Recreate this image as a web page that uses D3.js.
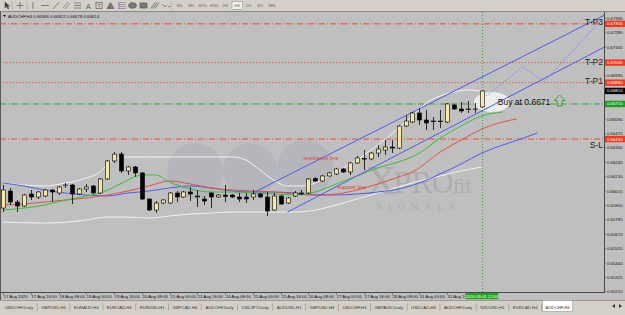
<!DOCTYPE html>
<html><head><meta charset="utf-8">
<title>AUDCHF H4</title>
<script src="https://cdn.jsdelivr.net/npm/d3@7"></script>
<style>
  body { margin: 0; background: #d4d0c8; }
  svg { display: block; font-family: Arial, "Liberation Sans", sans-serif; }
  .tiny { font-size: 4.3px; }
</style>
</head>
<body>
<svg id="chart" width="625" height="315"></svg>
<script>
// ---- values (AUDCHF, H4, bar 0 = 17 Aug 2020 00:00) ----
const opens = [0.65879,0.66015,0.65927,0.65895,0.65991,0.65967,0.65975,0.66023,0.65999,0.66059,
  0.66063,0.65991,0.66031,0.66055,0.65999,0.66111,0.66255,0.66310,0.66175,0.66207,
  0.66159,0.65951,0.65863,0.65919,0.65919,0.65999,0.65967,0.66007,0.65975,0.65951,
  0.65999,0.65967,0.65983,0.65983,0.65967,0.65967,0.65967,0.65991,0.65967,0.65863,
  0.65975,0.65919,0.65975,0.65999,0.65999,0.66115,0.66095,0.66135,0.66151,0.66191,
  0.66167,0.66239,0.66275,0.66271,0.66318,0.66342,0.66366,0.66358,0.66534,0.66566,
  0.66638,0.66582,0.66574,0.66570,0.66566,0.66702,0.66670,0.66670,0.66666,0.66686];
const highs = [0.66063,0.66039,0.65943,0.65991,0.66023,0.66015,0.66031,0.66031,0.66055,0.66079,
  0.66071,0.66039,0.66071,0.66063,0.66119,0.66263,0.66326,0.66326,0.66215,0.66215,
  0.66167,0.65959,0.65935,0.65951,0.66007,0.66015,0.66015,0.66047,0.66023,0.65975,
  0.66007,0.65991,0.66063,0.65991,0.65999,0.65999,0.66023,0.65999,0.66007,0.65999,
  0.65983,0.65967,0.66015,0.66023,0.66119,0.66127,0.66143,0.66167,0.66199,0.66199,
  0.66247,0.66295,0.66342,0.66326,0.66382,0.66422,0.66422,0.66542,0.66622,0.66646,
  0.66678,0.66662,0.66606,0.66662,0.66718,0.66710,0.66726,0.66734,0.66718,0.66822];
const lows = [0.65847,0.65903,0.65847,0.65887,0.65943,0.65951,0.65967,0.65927,0.65983,0.66039,
  0.65911,0.65983,0.66007,0.65991,0.65991,0.66103,0.66239,0.66159,0.66143,0.66127,
  0.65943,0.65855,0.65839,0.65911,0.65911,0.65927,0.65959,0.65935,0.65887,0.65903,
  0.65879,0.65959,0.65927,0.65959,0.65927,0.65919,0.65943,0.65959,0.65815,0.65855,
  0.65903,0.65911,0.65967,0.65983,0.65991,0.66087,0.66087,0.66127,0.66143,0.66159,
  0.66143,0.66231,0.66183,0.66263,0.66287,0.66302,0.66318,0.66350,0.66526,0.66558,
  0.66542,0.66502,0.66502,0.66518,0.66558,0.66662,0.66638,0.66638,0.66638,0.66678];
const closes = [0.66023,0.65927,0.65895,0.65983,0.65967,0.66007,0.66023,0.66007,0.66047,0.66063,
  0.65991,0.66031,0.66047,0.65999,0.66111,0.66255,0.66310,0.66175,0.66207,0.66159,
  0.65951,0.65863,0.65919,0.65943,0.65999,0.65967,0.66007,0.65991,0.65967,0.65935,
  0.65967,0.65983,0.65971,0.65967,0.65951,0.65951,0.65991,0.65967,0.65855,0.65975,
  0.65911,0.65959,0.65999,0.65991,0.66111,0.66095,0.66135,0.66159,0.66191,0.66167,
  0.66239,0.66279,0.66271,0.66318,0.66350,0.66366,0.66358,0.66534,0.66574,0.66638,
  0.66582,0.66558,0.66570,0.66574,0.66710,0.66670,0.66654,0.66666,0.66670,0.66814];

// indicator lines, [bar, price] (alligator lines run a few bars past the last candle)
const jawLine = [[0,0.66079],[3,0.66055],[6,0.66023],[9,0.65999],[12,0.65983],[15,0.65975],[18,0.65999],
  [21,0.66015],[24,0.66039],[27,0.66055],[30,0.66039],[33,0.66015],[36,0.66007],[39,0.66007],[42,0.65999],
  [45,0.65983],[48,0.65983],[51,0.65991],[54,0.66007],[57,0.66031],[60,0.66079],[63,0.66151],[66,0.66231],
  [69,0.66318],[72,0.66382],[75,0.66438],[77,0.66478]];
const teethLine = [[0,0.65903],[3,0.65911],[6,0.65927],[9,0.65943],[12,0.65959],[15,0.65983],[18,0.66015],
  [21,0.66055],[24,0.66095],[27,0.66071],[30,0.66039],[33,0.66023],[36,0.66015],[39,0.66007],[42,0.65991],
  [45,0.65983],[48,0.65991],[51,0.66023],[54,0.66071],[57,0.66127],[59,0.66167],[63,0.66326],[66,0.66422],
  [69,0.66510],[72,0.66566],[74,0.66590]];
const lipsLine = [[0,0.65863],[3,0.65879],[6,0.65903],[9,0.65943],[12,0.65975],[14,0.65999],[16,0.66047],
  [18,0.66103],[20,0.66143],[22,0.66143],[24,0.66087],[27,0.66031],[30,0.66007],[33,0.66007],[36,0.65999],
  [39,0.65991],[42,0.65983],[45,0.66007],[48,0.66071],[51,0.66135],[54,0.66199],[57,0.66247],[60,0.66318],
  [63,0.66438],[66,0.66534],[69,0.66614],[72,0.66646]];
const bandUpper = [[0,0.66079],[3,0.66063],[6,0.66055],[9,0.66079],[12,0.66119],[14,0.66167],[15,0.66223],
  [16,0.66263],[18,0.66287],[21,0.66287],[24,0.66287],[27,0.66287],[30,0.66287],[33,0.66287],[35,0.66263],
  [37,0.66183],[39,0.66103],[41,0.66055],[43,0.66055],[45,0.66079],[48,0.66167],[51,0.66263],[54,0.66382],
  [57,0.66518],[59,0.66614],[61,0.66718],[63,0.66774],[65,0.66806],[67,0.66822],[69,0.66814]];
const bandLower = [[0,0.65767],[6,0.65759],[12,0.65783],[15,0.65807],[18,0.65807],[21,0.65799],[24,0.65815],
  [27,0.65831],[30,0.65839],[33,0.65847],[36,0.65847],[39,0.65847],[42,0.65847],[45,0.65863],[48,0.65903],
  [51,0.65951],[54,0.65999],[57,0.66047],[60,0.66095],[63,0.66135],[66,0.66175],[69,0.66207]];

// trend channel (rays) and the projected path
const resistanceRay = [[36,0.65999],[64,0.66784]];
const supportRay = [[41,0.65847],[69,0.66655]];
const projection = [[69.6,0.66774],[74.9,0.67006],[77.9,0.66886],[86.2,0.67381]];

// trade levels
const levelNames = ["T-P3","T-P2","T-P1","Buy","S-L"];
const levelPrices = [0.6735,0.6704,0.6688,0.6671,0.6643];
const levelKinds = ["dashdot","dot","dot","dashdot","dashdot"];

const priceTicks = [0.67395,0.67280,0.67165,0.67050,0.66935,0.66820,0.66705,0.66590,0.66475,0.66360,
  0.66245,0.66130,0.66015,0.65900,0.65785,0.65670,0.65555,0.65440,0.65325,0.65210];
const timeTickBars = [0,4,8,12,16,20,24,28,32,36,40,44,48,52,56,60,64];
const timeTickLabels = ["17 Aug 2020","17 Aug 16:00","18 Aug 08:00","19 Aug 00:00","19 Aug 16:00",
  "20 Aug 08:00","21 Aug 00:00","21 Aug 16:00","24 Aug 08:00","25 Aug 00:00","25 Aug 16:00",
  "26 Aug 08:00","27 Aug 00:00","27 Aug 16:00","28 Aug 08:00","31 Aug 00:00","31 Aug 16:00"];
const lastBarTime = "2020.09.01 12:00";
const tabs = ["USDCHF,Daily","GBPUSD,H4","EURAUD,H4","EURCAD,H4","EURUSD,H1","GBPCAD,H4","AUDCHF,Daily",
  "USDJPY,Daily","AUDUSD,H1","GBPUSD,H4","USDCHF,H4","GBPAUD,Daily","USDCAD,H4","AUDCHF,Daily",
  "NZDUSD,H1","EURCAD,H4","AUDCHF,H4"];
const periods = ["M1","M5","M15","M30","H1","H4","D1","W1","MN"];

// ---- drawing ----
const W = 625, H = 315;
const axisX = 604, plotTop = 12, plotBottom = 292;
const x = d3.scaleLinear().domain([0, 69]).range([3, 481.9]);
const y = d3.scaleLinear().domain([0.65210, 0.67395]).range([291.8, 18.2]);
const fmt = d3.format(".5f");
const red = "#ee4b2b", green = "#3c9e3c", blue = "#4b5df2";

const svg = d3.select("#chart");
svg.append("rect").attr("width", W).attr("height", H).attr("fill", "#d4d0c8");
svg.append("rect").attr("x", 0).attr("y", 11).attr("width", W).attr("height", 289).attr("fill", "#bfbfbf");
svg.append("line").attr("x1", 0).attr("x2", W).attr("y1", 11.5).attr("y2", 11.5).attr("stroke", "#8a8a8a");
svg.append("line").attr("x1", 0.5).attr("x2", 0.5).attr("y1", 11).attr("y2", 300).attr("stroke", "#5a5a5a");

svg.append("clipPath").attr("id", "plotClip")
  .append("rect").attr("x", 1).attr("y", plotTop).attr("width", axisX - 1).attr("height", plotBottom - plotTop);
const plot = svg.append("g").attr("clip-path", "url(#plotClip)");

// watermark
const mark = plot.append("g").attr("font-family", "DejaVu Serif, serif").attr("fill", "#a8a8a8").attr("opacity", 0.75);
mark.selectAll("circle").data([[195,171,28],[250,170,27],[305,168,28]]).join("circle")
  .attr("cx", d => d[0]).attr("cy", d => d[1]).attr("r", d => d[2])
  .attr("fill", "#a9aeb8").attr("opacity", 0.6);
mark.append("text").attr("x", 368).attr("y", 194).attr("font-size", 38).text("X");
mark.append("text").attr("x", 393).attr("y", 193).attr("font-size", 27).text("PRO");
mark.append("text").attr("x", 453).attr("y", 193).attr("font-size", 18).text("fit");
mark.append("text").attr("x", 376).attr("y", 210).attr("font-size", 9).attr("letter-spacing", 6).text("SIGNALS");

// trade levels
const dash = { dashdot: "6,2,1,2", dot: "1.2,2" };
levelPrices.forEach((p, k) => {
  plot.append("line").attr("x1", 0).attr("x2", axisX).attr("y1", y(p)).attr("y2", y(p))
    .attr("stroke", levelNames[k] === "Buy" ? green : red).attr("stroke-width", 1)
    .attr("stroke-dasharray", dash[levelKinds[k]]);
});

// current bar marker
plot.append("line").attr("x1", Math.round(x(69)) + 0.5).attr("x2", Math.round(x(69)) + 0.5)
  .attr("y1", plotTop).attr("y2", plotBottom).attr("stroke", "#4f9a4f").attr("stroke-dasharray", "1,2");

// ellipse behind the last candle
plot.append("ellipse").attr("cx", x(70.45)).attr("cy", y(0.66726)).attr("rx", 18).attr("ry", 10)
  .attr("fill", "#ececec");

// indicators
const line = d3.line().x(d => x(d[0])).y(d => y(d[1])).curve(d3.curveMonotoneX);
[[bandUpper, "#f1f1f1"], [bandLower, "#f1f1f1"], [jawLine, blue], [teethLine, "#e5523f"], [lipsLine, "#35c035"]]
  .forEach(([data, col]) => {
    plot.append("path").attr("d", line(data)).attr("fill", "none").attr("stroke", col).attr("stroke-width", 1);
  });

// channel rays
function ray(pts) {
  const [a, b] = pts;
  const slope = (b[1] - a[1]) / (b[0] - a[0]);
  const end = x.invert(axisX + 2);
  return [a, [end, a[1] + slope * (end - a[0])]];
}
[resistanceRay, supportRay].forEach(r => {
  plot.append("path").attr("d", d3.line().x(d => x(d[0])).y(d => y(d[1]))(ray(r)))
    .attr("stroke", blue).attr("stroke-width", 1).attr("fill", "none");
});
plot.append("path").attr("d", d3.line().x(d => x(d[0])).y(d => y(d[1]))(projection))
  .attr("fill", "none").attr("stroke", "#7d86e8").attr("stroke-width", 1).attr("stroke-dasharray", "1.5,1.5");

plot.append("text").attr("x", x(43.3)).attr("y", y(0.66263) + 0.5).attr("font-size", 5.5)
  .attr("fill", "#e33b30").text("resistance line");
plot.append("text").attr("x", x(48.2)).attr("y", y(0.66031)).attr("font-size", 5.5)
  .attr("fill", "#e33b30").text("support line");

// candles
const bars = opens.map((o, i) => ({ i, o, h: highs[i], l: lows[i], c: closes[i] }));
const cx = i => Math.round(x(i));
plot.selectAll("line.wick").data(bars).join("line").attr("class", "wick")
  .attr("x1", d => cx(d.i) + 0.5).attr("x2", d => cx(d.i) + 0.5)
  .attr("y1", d => y(d.h)).attr("y2", d => y(d.l)).attr("stroke", "#1a1a1a").attr("stroke-width", 0.9);
plot.selectAll("rect.body").data(bars).join("rect").attr("class", "body")
  .attr("x", d => cx(d.i) - 1.5).attr("width", 4)
  .attr("y", d => y(Math.max(d.o, d.c)))
  .attr("height", d => Math.max(0.7, Math.abs(y(d.o) - y(d.c))))
  .attr("fill", d => d.c >= d.o ? "#f7e7a6" : "#000").attr("stroke", "#000").attr("stroke-width", 0.6);

// level captions
const capOffset = { "T-P3": 1.5, "T-P2": 2, "T-P1": 1.5, "S-L": 8.5 };
levelNames.forEach((n, k) => {
  if (n === "Buy") return;
  plot.append("text").attr("x", axisX - 1).attr("y", y(levelPrices[k]) + capOffset[n])
    .attr("text-anchor", "end").attr("font-size", 8.5).attr("fill", "#222").text(n);
});
plot.append("text").attr("x", x(71.3)).attr("y", y(levelPrices[3]) + 1)
  .attr("font-size", 8.5).attr("fill", "#111").text("Buy at " + levelPrices[3].toFixed(4));
const ax = x(80.2), ay = y(levelPrices[3]);
plot.append("path")
  .attr("d", `M${ax},${ay - 9} L${ax + 5.5},${ay - 3.5} L${ax + 2.5},${ay - 3.5} L${ax + 2.5},${ay + 2} L${ax - 2.5},${ay + 2} L${ax - 2.5},${ay - 3.5} L${ax - 5.5},${ay - 3.5} Z`)
  .attr("fill", "none").attr("stroke", "#3aa53a").attr("stroke-width", 1);

// chart title
svg.append("path").attr("d", "M3,15 L6,15 L4.5,17 Z").attr("fill", "#111");
svg.append("text").attr("class", "tiny").attr("x", 8).attr("y", 17.5).attr("fill", "#111")
  .text("AUDCHF,H4  " + [opens[69], highs[69], lows[69], closes[69]].map(fmt).join(" "));

// price axis
svg.append("line").attr("x1", axisX + 0.5).attr("x2", axisX + 0.5).attr("y1", plotTop).attr("y2", plotBottom + 0.5)
  .attr("stroke", "#4a4a4a");
const pa = svg.append("g");
pa.selectAll("line").data(priceTicks).join("line")
  .attr("x1", axisX).attr("x2", axisX + 2).attr("y1", d => y(d)).attr("y2", d => y(d)).attr("stroke", "#4a4a4a").attr("stroke-width", 0.6);
pa.selectAll("text").data(priceTicks).join("text").attr("class", "tiny")
  .attr("x", axisX + 3).attr("y", d => y(d) + 1.5).attr("fill", "#111").text(fmt);
const tags = levelPrices.map((p, k) => [p, levelNames[k] === "Buy" ? "#1e9e1e" : "#f23a1e"]).concat([[closes[69], "#000"]]);
tags.forEach(([p, col]) => {
  svg.append("rect").attr("x", axisX + 1).attr("y", y(p) - 3.2).attr("width", 20).attr("height", 6.4).attr("fill", col);
  svg.append("text").attr("class", "tiny").attr("x", axisX + 3).attr("y", y(p) + 1.5).attr("fill", "#fff").text(fmt(p));
});

// time axis
svg.append("line").attr("x1", 0).attr("x2", axisX + 1).attr("y1", plotBottom + 0.5).attr("y2", plotBottom + 0.5)
  .attr("stroke", "#4a4a4a");
svg.append("clipPath").attr("id", "timeClip")
  .append("rect").attr("x", 0).attr("y", plotBottom).attr("width", x(69) - 16.5).attr("height", 8);
const ta = svg.append("g").attr("clip-path", "url(#timeClip)");
ta.selectAll("line").data(timeTickBars).join("line")
  .attr("x1", d => cx(d) + 0.5).attr("x2", d => cx(d) + 0.5).attr("y1", plotBottom).attr("y2", plotBottom + 3)
  .attr("stroke", "#4a4a4a").attr("stroke-width", 0.6);
ta.selectAll("text").data(timeTickBars).join("text").attr("class", "tiny")
  .attr("x", d => cx(d) + 0.5).attr("y", plotBottom + 5.6).attr("fill", "#111")
  .text((d, k) => timeTickLabels[k]);
svg.append("rect").attr("x", x(69) - 16.5).attr("y", plotBottom + 1).attr("width", 33).attr("height", 6.2).attr("fill", "#1fa51f");
svg.append("text").attr("class", "tiny").attr("x", x(69)).attr("y", plotBottom + 5.6).attr("text-anchor", "middle")
  .attr("fill", "#fff").text(lastBarTime);

// tab bar
svg.append("rect").attr("x", 0).attr("y", 300).attr("width", W).attr("height", 15).attr("fill", "#d4d0c8");
svg.append("line").attr("x1", 0).attr("x2", W).attr("y1", 300.5).attr("y2", 300.5).attr("stroke", "#9a9a9a");
const tabG = svg.append("g");
let tx = 4;
tabs.forEach((t, k) => {
  const active = k === tabs.length - 1;
  const txt = tabG.append("text").attr("class", "tiny").attr("y", 308.5).attr("fill", "#333").text(t);
  const w = txt.node().getComputedTextLength();
  if (active) {
    tabG.insert("rect", "text").attr("x", tx - 2).attr("y", 300.5).attr("width", w + 6).attr("height", 11)
      .attr("fill", "#fff").attr("stroke", "#888").attr("stroke-width", 0.5);
  }
  txt.attr("x", tx + 1);
  tx += w + 8;
  if (!active) tabG.append("line").attr("x1", tx - 3).attr("x2", tx - 3).attr("y1", 303.5).attr("y2", 310.5)
    .attr("stroke", "#8c8c8c").attr("stroke-width", 0.6);
});
svg.append("path").attr("d", "M612,306 L615,304 L615,308 Z").attr("fill", "#333");
svg.append("path").attr("d", "M622,306 L619,304 L619,308 Z").attr("fill", "#333");

// toolbar
const tb = svg.append("g").attr("stroke", "#5c5c5c").attr("fill", "none").attr("stroke-width", 0.7);
tb.append("path").attr("d", "M5,2 L5,8 L6.5,6.5 L8,9 L8.8,8.5 L7.5,6 L9.5,6 Z").attr("fill", "#333");
tb.append("path").attr("d", "M20,2 V9 M16.5,5.5 H23.5");
[12, 27, 171].forEach(sx => tb.append("line").attr("x1", sx).attr("x2", sx).attr("y1", 1.5).attr("y2", 9.5).attr("stroke", "#a0a0a0"));
tb.append("path").attr("d", "M33,2 V9");
tb.append("path").attr("d", "M41,5.5 H49");
tb.append("path").attr("d", "M53,9 L59,2");
tb.append("path").attr("d", "M63,8 L68,2 M65,9 L70,3").attr("stroke", "#7a6a9a");
tb.append("path").attr("d", "M74,3 H81 M74,5.5 H81 M74,8 H81");
tb.append("text").attr("x", 86).attr("y", 8.5).attr("font-size", 7).attr("fill", "#555").attr("stroke", "none").text("A");
tb.append("rect").attr("x", 96).attr("y", 2.5).attr("width", 6).attr("height", 6);
tb.append("text").attr("x", 97.5).attr("y", 7.5).attr("font-size", 5).attr("fill", "#555").attr("stroke", "none").text("T");
tb.append("path").attr("d", "M107,8.5 L110.5,2.5 L114,8.5 Z").attr("fill", "#777");
tb.append("path").attr("d", "M118,2.5 H126 M118,4.5 H126 M118,6.5 H126 M118,8.5 H126 M119,2 V9").attr("stroke", "#8a7aa8");
tb.append("ellipse").attr("cx", 132.5).attr("cy", 5.5).attr("rx", 4).attr("ry", 2.8).attr("fill", "#777");
tb.append("rect").attr("x", 140).attr("y", 3).attr("width", 7).attr("height", 5).attr("fill", "#777");
tb.append("path").attr("d", "M151,8.5 L155,2.5 M153,8.5 L157,2.5 M155,8.5 L159,2.5");
tb.append("path").attr("d", "M162,4 L165,7 M165,7 L167,5 M168,6.5 L170,6.5");
periods.forEach((p, k) => {
  const px = 176 + k * 11.5;
  if (p === "H4") svg.append("rect").attr("x", px - 1.5).attr("y", 1.5).attr("width", 10.5).attr("height", 8)
    .attr("fill", "#eeeeea").attr("stroke", "#8a8a8a").attr("stroke-width", 0.5);
  svg.append("text").attr("class", "tiny").attr("x", px + 3.75).attr("y", 7.2).attr("text-anchor", "middle")
    .attr("fill", "#6a6a6a").text(p);
});
</script>
</body></html>
